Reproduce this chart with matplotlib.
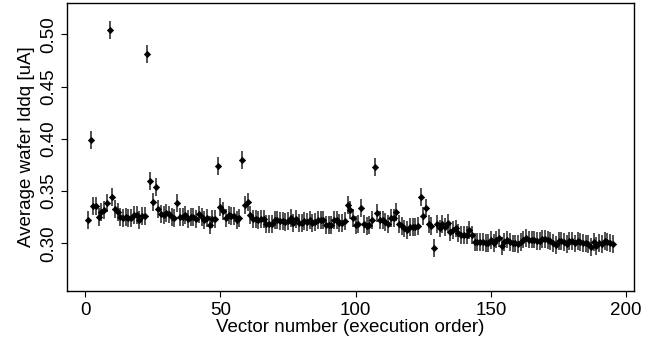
import matplotlib
matplotlib.use("Agg")
import matplotlib.pyplot as plt
import numpy as np

plt.rcParams['font.family'] = ['Liberation Sans', 'DejaVu Sans']

vector_number = list(range(1, 196))
iddq = [
    0.3223, 0.3989, 0.3360, 0.3360, 0.3255, 0.3297, 0.3319, 0.3383, 0.5040, 0.3440,
    0.3325, 0.3302, 0.3255, 0.3240, 0.3255, 0.3240, 0.3245, 0.3271, 0.3274, 0.3223,
    0.3261, 0.3261, 0.4809, 0.3596, 0.3398, 0.3542, 0.3328, 0.3280, 0.3271, 0.3287,
    0.3277, 0.3255, 0.3245, 0.3383, 0.3255, 0.3255, 0.3271, 0.3230, 0.3255, 0.3255,
    0.3230, 0.3277, 0.3255, 0.3223, 0.3240, 0.3175, 0.3230, 0.3233, 0.3743, 0.3350,
    0.3312, 0.3240, 0.3271, 0.3261, 0.3261, 0.3223, 0.3240, 0.3797, 0.3367, 0.3398,
    0.3271, 0.3230, 0.3236, 0.3223, 0.3230, 0.3233, 0.3185, 0.3185, 0.3185, 0.3223,
    0.3223, 0.3213, 0.3213, 0.3207, 0.3213, 0.3240, 0.3191, 0.3233, 0.3191, 0.3191,
    0.3213, 0.3207, 0.3223, 0.3191, 0.3207, 0.3223, 0.3223, 0.3223, 0.3172, 0.3172,
    0.3172, 0.3223, 0.3223, 0.3191, 0.3191, 0.3213, 0.3367, 0.3319, 0.3240, 0.3178,
    0.3185, 0.3335, 0.3185, 0.3166, 0.3178, 0.3223, 0.3733, 0.3287, 0.3223, 0.3223,
    0.3207, 0.3185, 0.3240, 0.3240, 0.3297, 0.3185, 0.3166, 0.3143, 0.3127, 0.3160,
    0.3160, 0.3160, 0.3166, 0.3440, 0.3264, 0.3335, 0.3185, 0.3166, 0.2958, 0.3185,
    0.3143, 0.3185, 0.3160, 0.3197, 0.3111, 0.3127, 0.3143, 0.3096, 0.3080, 0.3080,
    0.3080, 0.3127, 0.3080, 0.3015, 0.3015, 0.3015, 0.3015, 0.3006, 0.3006, 0.3032,
    0.3006, 0.3036, 0.3048, 0.2974, 0.3015, 0.3036, 0.3015, 0.2999, 0.2999, 0.2993,
    0.3015, 0.3036, 0.3048, 0.3036, 0.3036, 0.3036, 0.3025, 0.3025, 0.3041, 0.3041,
    0.3032, 0.3025, 0.3006, 0.2984, 0.3025, 0.3025, 0.3015, 0.2993, 0.3025, 0.3025,
    0.2999, 0.3025, 0.3015, 0.3006, 0.2999, 0.2993, 0.2968, 0.3015, 0.2974, 0.3006,
    0.2993, 0.3025, 0.3015, 0.3006, 0.2993,
]
iddq_err = 0.0085

x_ticks = [0, 50, 100, 150, 200]
y_ticks = [0.30, 0.35, 0.40, 0.45, 0.50]
y_tick_labels = ["0.30", "0.35", "0.40", "0.45", "0.50"]

fig = plt.figure(figsize=(6.55, 3.47), dpi=100)
ax = fig.add_axes([0.102, 0.1614, 0.8656, 0.83])

ax.errorbar(vector_number, iddq, yerr=iddq_err, fmt='D', color='black',
            markersize=3.2, elinewidth=1.1, ecolor='#222222', capsize=0,
            markeredgewidth=0.5)

ax.set_xlim(-6.8, 202.8)
ax.set_ylim(0.2544, 0.530)
ax.set_xticks(x_ticks)
ax.set_yticks(y_ticks)
ax.set_yticklabels(y_tick_labels, rotation=90, va='center')
ax.tick_params(axis='both', direction='out', length=4, width=0.8,
               labelsize=13.5, colors='black')
ax.tick_params(axis='y', pad=3)
ax.tick_params(axis='x', pad=4)
for s in ax.spines.values():
    s.set_linewidth(1.0)

ax.set_xlabel("Vector number (execution order)", fontsize=13.5, labelpad=0)
ax.set_ylabel("Average wafer Iddq [uA]", fontsize=13.5, labelpad=4)

fig.savefig("out.png", dpi=100)
